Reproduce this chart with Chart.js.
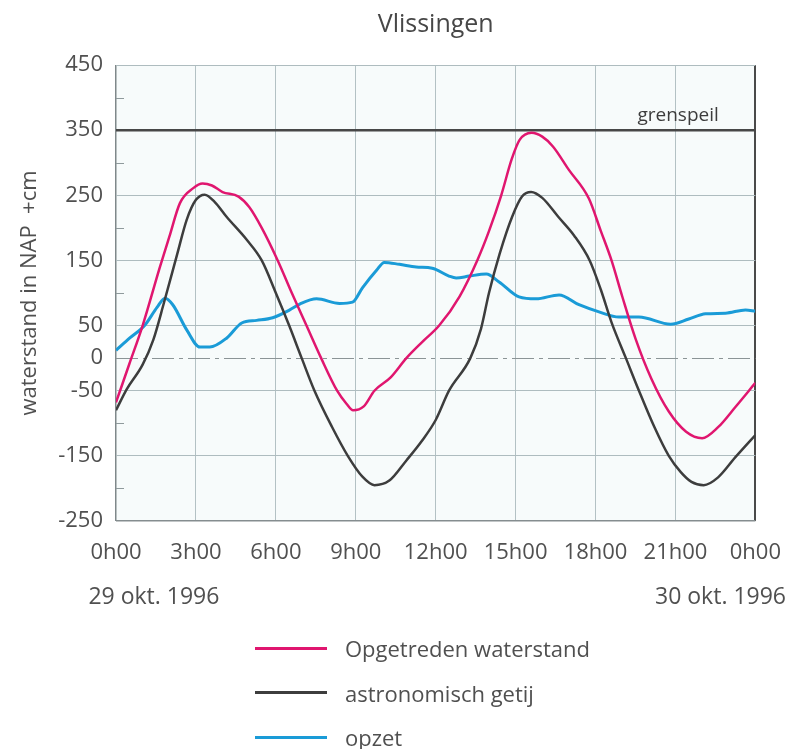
<!DOCTYPE html>
<html>
<head>
<meta charset="utf-8">
<title>Vlissingen</title>
<script src="https://cdn.jsdelivr.net/npm/chart.js@4.4.1/dist/chart.umd.min.js"></script>
<style>
    body { margin: 0; background: #ffffff; }
    #wrap { position: relative; width: 800px; height: 749px; }
    #legend { position: absolute; left: 255px; top: 626px; font-family: 'Open Sans', sans-serif; font-size: 22px; color: #505050; }
    #legend .row { height: 44.5px; display: flex; align-items: center; }
    #legend .swatch { display: inline-block; width: 72px; height: 3px; margin-right: 18px; }
</style>
</head>
<body>
<div id="wrap">
    <canvas id="tide_chart" width="800" height="749"></canvas>
    <div id="legend"></div>
</div>
<script>
// Opgetreden waterstand (cm NAP), hours after 29 okt 0h00
const observedHours  = [0, 0.5, 1.0, 1.65, 2.0, 2.4, 2.9, 3.25, 3.6, 4.0, 4.6, 5.0, 5.47, 6.07, 6.6, 7.15, 7.7, 8.3, 8.65, 8.9, 9.3, 9.7, 10.3, 10.9, 11.5, 12.13, 12.9, 13.56, 14.0, 14.46, 14.85, 15.15, 15.6, 16.0, 16.4, 17.0, 17.75, 18.2, 18.6, 19.0, 19.5, 20.1, 20.75, 21.4, 22.0, 22.6, 23.25, 24];
const observedLevels = [-68, -9, 50, 140, 186, 238, 261, 268, 265, 255, 248, 232, 200, 150, 100, 50, 0, -50, -70, -80, -74, -50, -30, 0, 25, 50, 95, 150, 195, 250, 305, 335, 346, 340, 325, 289, 245, 195, 150, 95, 30, -32, -82, -113, -123, -106, -75, -38];

// Astronomisch getij
const tideHours  = [0, 0.4, 1.0, 1.4, 1.8, 2.3, 2.65, 3.0, 3.33, 3.7, 4.15, 4.9, 5.47, 6.0, 6.5, 6.97, 7.45, 8.1, 8.7, 9.25, 9.7, 10.26, 10.9, 11.5, 12.0, 12.5, 13.3, 13.7, 14.0, 14.4, 14.87, 15.24, 15.58, 16.0, 16.6, 17.2, 17.78, 18.2, 18.6, 19.14, 19.63, 20.2, 20.75, 21.2, 21.6, 22.06, 22.6, 23.25, 24];
const tideLevels = [-80, -48, -10, 28, 85, 160, 212, 243, 251, 240, 217, 182, 150, 100, 50, 0, -50, -105, -150, -182, -195, -188, -157, -126, -95, -50, 0, 45, 100, 160, 217, 248, 255, 246, 217, 188, 150, 105, 55, 0, -50, -105, -150, -175, -190, -195, -183, -152, -118];

// Opzet
const surgeHours  = [0, 0.52, 1.09, 1.54, 1.84, 2.13, 2.66, 3.15, 3.52, 4.16, 4.72, 5.28, 5.88, 6.52, 6.9, 7.53, 8.39, 8.88, 9.25, 9.78, 10.07, 10.64, 11.27, 11.87, 12.5, 12.77, 13.26, 13.9, 14.38, 15.13, 15.77, 16.63, 17.38, 18.13, 18.88, 19.63, 20.82, 21.5, 22.13, 22.88, 23.63, 24];
const surgeLevels = [12, 31, 51, 78, 92, 82, 43, 17, 17, 31, 54, 58, 62, 74, 83, 91, 84, 86, 108, 135, 147, 144, 140, 138, 126, 123, 126, 129, 117, 94, 91, 97, 82, 71, 63, 63, 52, 60, 68, 69, 74, 72];

// Axis ticks
const hourTicks = [0, 3, 6, 9, 12, 15, 18, 21, 24];
const levelTicks = [450, 350, 250, 150, 50, 0, -50, -150, -250];
const minorLevelTicks = [400, 300, 200, 100, -100, -200];
const dateLabels = ['29 okt. 1996', '30 okt. 1996'];

// Reference level
const grenspeil = 350;
const grenspeilLabelHour = 21.1;

const FONT = "'Open Sans', sans-serif";
const TEXT = '#505050';

/**
 * Pairs an hour array with a value array for a linear x axis.
 */
function toPoints(hours, values)
{
    return hours.map((h, i) => ({ x: h, y: values[i] }));
}

// Light fill behind the plotting area plus the little inner minor ticks
const plotBackground = {
    id: 'plotBackground',
    beforeDraw(chart)
    {
        const { ctx, chartArea: a } = chart;
        ctx.save();
        ctx.fillStyle = '#f7fbfb';
        ctx.fillRect(a.left, a.top, a.right - a.left, a.bottom - a.top);
        ctx.restore();
    },
    beforeDatasetsDraw(chart)
    {
        const { ctx, chartArea: a, scales } = chart;
        ctx.save();
        ctx.strokeStyle = '#8f9a9c';
        ctx.lineWidth = 1;
        minorLevelTicks.forEach(v => {
            const y = Math.round(scales.y.getPixelForValue(v)) + 0.5;
            ctx.beginPath();
            ctx.moveTo(a.left, y);
            ctx.lineTo(a.left + 8, y);
            ctx.stroke();
        });
        ctx.restore();
    }
};

// "grenspeil" caption and the two date captions under the time axis
const captions = {
    id: 'captions',
    afterDraw(chart)
    {
        const { ctx, chartArea: a, scales } = chart;
        ctx.save();
        ctx.fillStyle = '#3c3c3c';
        ctx.font = `19px ${FONT}`;
        ctx.textAlign = 'center';
        ctx.textBaseline = 'alphabetic';
        ctx.fillText('grenspeil', scales.x.getPixelForValue(grenspeilLabelHour), scales.y.getPixelForValue(grenspeil) - 9);

        ctx.font = `22px ${FONT}`;
        const half = ctx.measureText('0h00').width / 2;
        ctx.fillStyle = TEXT;
        ctx.font = `23px ${FONT}`;
        ctx.textBaseline = 'middle';
        ctx.textAlign = 'left';
        ctx.fillText(dateLabels[0], scales.x.getPixelForValue(hourTicks[0]) - half - 2, a.bottom + 76);
        ctx.textAlign = 'right';
        ctx.fillText(dateLabels[1], scales.x.getPixelForValue(hourTicks[hourTicks.length - 1]) + half + 5, a.bottom + 76);
        ctx.restore();
    }
};

const chart = new Chart(document.getElementById('tide_chart').getContext('2d'),
{
    type: 'line',
    data: {
        datasets: [
            {
                label: 'Opgetreden waterstand',
                data: toPoints(observedHours, observedLevels),
                borderColor: '#e0166f',
                borderWidth: 2.5,
                pointRadius: 0,
                cubicInterpolationMode: 'monotone'
            },
            {
                label: 'astronomisch getij',
                data: toPoints(tideHours, tideLevels),
                borderColor: '#3d3d3d',
                borderWidth: 2.5,
                pointRadius: 0,
                cubicInterpolationMode: 'monotone'
            },
            {
                label: 'opzet',
                data: toPoints(surgeHours, surgeLevels),
                borderColor: '#1a9bd7',
                borderWidth: 3,
                pointRadius: 0,
                cubicInterpolationMode: 'monotone'
            }
        ]
    },
    options: {
        responsive: false,
        animation: false,
        layout: { padding: { left: 0, right: 43, top: 0, bottom: 128 } },
        plugins: {
            legend: { display: false },
            tooltip: { enabled: false },
            title: {
                display: true,
                fullSize: false,
                text: 'Vlissingen',
                color: '#474747',
                font: { family: FONT, size: 25, weight: 'normal' },
                padding: { top: 10, bottom: 25 }
            }
        },
        scales: {
            x: {
                type: 'linear',
                min: 0,
                max: 24,
                afterBuildTicks: scale => { scale.ticks = hourTicks.map(v => ({ value: v })); },
                afterFit: scale => { scale.height = 100; },
                ticks: {
                    padding: 19,
                    maxRotation: 0,
                    color: TEXT,
                    font: { family: FONT, size: 22 },
                    callback: v => `${v % 24}h00`
                },
                grid: {
                    drawTicks: false,
                    color: ctx => ctx.tick.value === 24 ? '#4a4a4a' : ctx.tick.value === 0 ? '#7f888a' : '#b3c1c4',
                    lineWidth: ctx => ctx.tick.value === 24 ? 2 : ctx.tick.value === 0 ? 1.5 : 1
                },
                border: { display: false }
            },
            y: {
                min: -250,
                max: 450,
                afterBuildTicks: scale => { scale.ticks = levelTicks.map(v => ({ value: v })); },
                afterFit: scale => { scale.width = 116; },
                ticks: {
                    padding: 13,
                    color: TEXT,
                    font: { family: FONT, size: 22 }
                },
                title: {
                    display: true,
                    text: 'waterstand in NAP  +cm',
                    color: TEXT,
                    font: { family: FONT, size: 22 },
                    padding: { top: 17, bottom: 0 }
                },
                grid: {
                    drawTicks: false,
                    color: ctx => {
                        const v = ctx.tick.value;
                        if (v === grenspeil) return '#474747';
                        if (v === 0) return '#8b9496';
                        if (v === -250) return '#858d8f';
                        return '#aebcbf';
                    },
                    lineWidth: ctx => ctx.tick.value === grenspeil ? 2.5 : (ctx.tick.value === -250 ? 1.5 : 1)
                },
                border: {
                    display: false,
                    dash: ctx => (ctx.tick && ctx.tick.value === 0) ? [22, 5, 4, 5] : []
                }
            }
        }
    },
    plugins: [plotBackground, captions]
});

// Vertical legend built from the dataset styles
const legendBox = document.getElementById('legend');
chart.data.datasets.forEach(ds =>
{
    const row = document.createElement('div');
    row.className = 'row';
    const swatch = document.createElement('span');
    swatch.className = 'swatch';
    swatch.style.background = ds.borderColor;
    const label = document.createElement('span');
    label.textContent = ds.label;
    row.append(swatch, label);
    legendBox.append(row);
});
</script>
</body>
</html>
